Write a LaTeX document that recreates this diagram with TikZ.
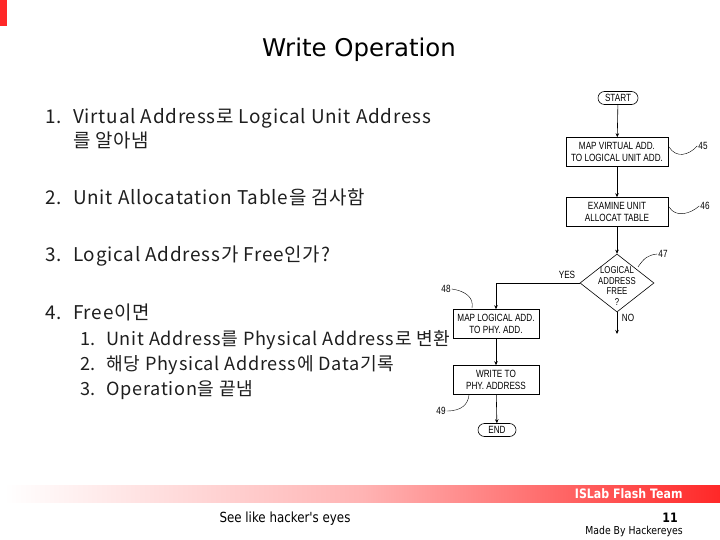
\documentclass[tikz,border=0pt]{standalone}
\usepackage{fontspec}
\setmainfont{DejaVu Sans}
\newfontfamily\krfont[LetterSpace=4]{Noto Sans CJK KR}
\newfontfamily\chartfont[FakeStretch=0.78]{Liberation Sans}
\newfontfamily\footfont[FakeStretch=0.85]{DejaVu Sans}
\usetikzlibrary{arrows.meta,shapes.geometric,shapes.misc}
\definecolor{barred}{RGB}{255,40,40}
\definecolor{listgray}{RGB}{30,30,30}
\newcommand{\num}[2]{\makebox[#1][l]{#2}}
\begin{document}
\begin{tikzpicture}[
        x=1bp, y=-1bp,
        item/.style={anchor=base west, inner sep=0pt, font=\krfont\fontsize{19}{22}\selectfont, text=listgray},
        subitem/.style={item, font=\krfont\fontsize{18.2}{22}\selectfont},
        proc/.style={draw, semithick, minimum width=102bp, minimum height=29bp, inner sep=1bp, align=center,
            font=\chartfont\fontsize{10.5}{12}\selectfont},
        term/.style={draw, semithick, rounded rectangle, minimum width=42bp, minimum height=13bp, inner sep=1bp,
            font=\chartfont\fontsize{10.5}{12}\selectfont},
        dia/.style={draw, semithick, diamond, minimum width=74bp, minimum height=58bp, inner sep=0pt},
        tag/.style={inner sep=1bp, font=\chartfont\fontsize{10.5}{12}\selectfont},
        flow/.style={-{Stealth[length=4bp,width=3.5bp]}, semithick},
        callout/.style={thin}
    ]

        % page frame
        \useasboundingbox (0,0) rectangle (720,540);
        \fill[barred] (0,0) rectangle (7,26);

        % title
        \node[font=\fontsize{24.5}{28}\selectfont] (title) at (359,50) {Write Operation};

        % steps
        \node[item] (s1) at (45,124) {\num{28bp}{1.}Virtual Address로 Logical Unit Address};
        \node[item] (s1b) at (73,148) {를 알아냄};
        \node[item] (s2) at (45,205) {\num{28bp}{2.}Unit Allocatation Table을 검사함};
        \node[item] (s3) at (45,262) {\num{28bp}{3.}Logical Address가 Free인가?};
        \node[item] (s4) at (45,319) {\num{28bp}{4.}Free이면};
        \node[subitem] (s41) at (80,345) {\num{26bp}{1.}Unit Address를 Physical Address로 변환};
        \node[subitem] (s42) at (80,370) {\num{26bp}{2.}해당 Physical Address에 Data기록};
        \node[subitem] (s43) at (80,395) {\num{26bp}{3.}Operation을 끝냄};

        % flowchart
        \node[term] (start) at (618,98) {START};
        \node[proc] (mapvirt) at (617,152) {MAP VIRTUAL ADD.\\TO LOGICAL UNIT ADD.};
        \node[proc] (examine) at (617,212) {EXAMINE UNIT\\ALLOCAT TABLE};
        \node[dia] (free) at (617,283) {};
        \node[align=center, inner sep=0pt, font=\chartfont\fontsize{10}{10.5}\selectfont] (freetext) at (617,286)
            {LOGICAL\\ADDRESS\\FREE\\?};
        \node[proc, minimum width=86bp] (mapphy) at (496,324) {MAP LOGICAL ADD.\\TO PHY. ADD.};
        \node[proc, minimum width=86bp] (write) at (496,380) {WRITE TO\\PHY. ADDRESS};
        \node[term, minimum width=40bp] (end) at (497,430) {END};
        \coordinate (noend) at (617,334);

        \draw[flow] (start) -- (mapvirt);
        \draw[flow] (mapvirt) -- (examine);
        \draw[flow] (examine) -- (free);
        \draw[flow] (free.west) -| (mapphy.north);
        \draw[flow] (free.south) -- (noend);
        \draw[flow] (mapphy) -- (write);
        \draw[flow] (write) -- (end);
        \node[tag] (yes) at (567,275) {YES};
        \node[tag] (no) at (628,318) {NO};

        % reference numbers
        \node[tag] (n45) at (703,146) {45};
        \node[tag] (n46) at (705,206) {46};
        \node[tag] (n47) at (663,254) {47};
        \node[tag] (n48) at (446,289) {48};
        \node[tag] (n49) at (441,411) {49};
        \draw[callout] (669,147) .. controls (676,158) and (688,156) .. (n45.west);
        \draw[callout] (669,207) .. controls (676,218) and (690,214) .. (n46.west);
        \draw[callout] (638,267) .. controls (644,258) and (648,255) .. (n47.west);
        \draw[callout] (n48.east) .. controls (466,291) and (474,298) .. (472,308);
        \draw[callout] (n49.east) .. controls (462,411) and (468,404) .. (469,395);

        % footer
        \shade[left color=white, right color=barred, middle color=barred!35] (4,485) rectangle (720,502);
        \node[anchor=east, text=white, font=\footfont\bfseries\fontsize{13}{15}\selectfont] (team) at (686,494) {ISLab Flash Team};
        \node[font=\footfont\fontsize{14}{16}\selectfont] (motto) at (285,519) {See like hacker's eyes};
        \node[font=\footfont\bfseries\fontsize{13}{15}\selectfont] (page) at (670,518) {11};
        \node[font=\footfont\fontsize{11}{13}\selectfont] (made) at (634,531) {Made By Hackereyes};

    \end{tikzpicture}
\end{document}
